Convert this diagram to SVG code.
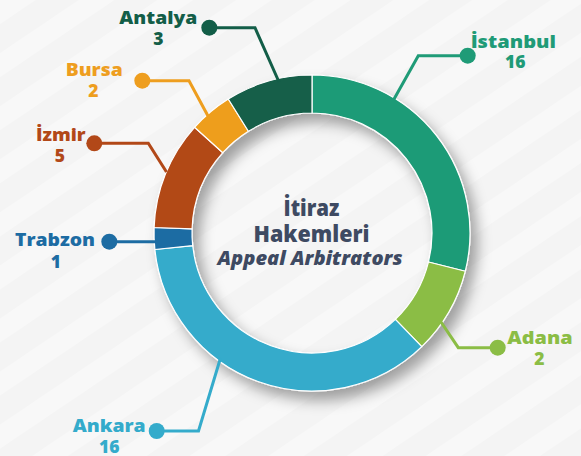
<svg xmlns="http://www.w3.org/2000/svg" width="581" height="456" viewBox="0 0 581 456">
<defs>
<pattern id="bgp" width="44" height="44" patternUnits="userSpaceOnUse" patternTransform="rotate(-34)">
<rect width="44" height="44" fill="#F4F4F4"/>
<rect width="44" height="20" fill="#F8F8F8"/>
</pattern>
<filter id="sh" x="-20%" y="-20%" width="150%" height="150%">
<feDropShadow dx="7" dy="9" stdDeviation="7" flood-color="#000" flood-opacity="0.35"/>
</filter>
</defs>
<style>
.seg{stroke:#FFFFFF;stroke-width:1.2;stroke-linejoin:round}
.ln{fill:none;stroke-width:3;stroke-linejoin:miter}
.lb{font-family:"Open Sans","Liberation Sans",sans-serif;font-weight:800;font-size:17.5px;text-anchor:middle}
.ct{font-family:"Open Sans","Liberation Sans",sans-serif;font-weight:800;fill:#3E4A62;text-anchor:middle}
</style>
<rect width="581" height="456" fill="url(#bgp)"/>

<g id="ring" filter="url(#sh)">
<g id="istanbul-seg"><path class="seg" fill="#1F9B77" d="M312,75 A158,158 0 0 1 465.31,271.22 L428.44,262.03 A120,120 0 0 0 312,113 Z"/></g>
<g id="adana-seg"><path class="seg" fill="#8BBD45" d="M465.31,271.22 A158,158 0 0 1 421.76,346.66 L395.36,319.32 A120,120 0 0 0 428.44,262.03 Z"/></g>
<g id="ankara-seg"><path class="seg" fill="#34ABCB" d="M421.76,346.66 A158,158 0 0 1 154.87,249.52 L192.66,245.54 A120,120 0 0 0 395.36,319.32 Z"/></g>
<g id="trabzon-seg"><path class="seg" fill="#1D6CA3" d="M154.87,249.52 A158,158 0 0 1 154.10,227.49 L192.07,228.81 A120,120 0 0 0 192.66,245.54 Z"/></g>
<g id="izmir-seg"><path class="seg" fill="#B24818" d="M154.10,227.49 A158,158 0 0 1 194.58,127.28 L222.82,152.70 A120,120 0 0 0 192.07,228.81 Z"/></g>
<g id="bursa-seg"><path class="seg" fill="#EE9E1F" d="M194.58,127.28 A158,158 0 0 1 228.27,99.01 L248.41,131.23 A120,120 0 0 0 222.82,152.70 Z"/></g>
<g id="antalya-seg"><path class="seg" fill="#135E48" d="M228.27,99.01 A158,158 0 0 1 312,75 L312,113 A120,120 0 0 0 248.41,131.23 Z"/></g>
</g>
<g id="center">
<text class="ct" x="311.5" y="216" font-size="22" textLength="56" lengthAdjust="spacingAndGlyphs">İtiraz</text>
<text class="ct" x="311.5" y="242" font-size="22" textLength="116" lengthAdjust="spacingAndGlyphs">Hakemleri</text>
<text class="ct" x="310" y="265" font-size="18.5" font-style="italic" textLength="185" lengthAdjust="spacingAndGlyphs">Appeal Arbitrators</text>
</g>

<g id="connectors">
<path class="ln" stroke="#135E48" d="M209.3,27.7 H255 L279,82"/>
<path class="ln" stroke="#EE9E1F" d="M142.3,80.7 H189 L208,116"/>
<path class="ln" stroke="#B24818" d="M94.3,143.3 H148.3 L166.5,172"/>
<path class="ln" stroke="#1D6CA3" d="M109.3,241.7 H157"/>
<path class="ln" stroke="#34ABCB" d="M156.7,431 H198.5 L220.5,358"/>
<path class="ln" stroke="#1F9B77" d="M467.7,55.7 H418.3 L393.5,100"/>
<path class="ln" stroke="#8BBD45" d="M497.7,347.7 H458.3 L441,322"/>
<circle cx="209.3" cy="27.7" r="8" fill="#135E48"/>
<circle cx="142.3" cy="80.7" r="8" fill="#EE9E1F"/>
<circle cx="94.3" cy="143.3" r="8" fill="#B24818"/>
<circle cx="109.3" cy="241.7" r="8" fill="#1D6CA3"/>
<circle cx="156.7" cy="431" r="8" fill="#34ABCB"/>
<circle cx="467.7" cy="55.7" r="8" fill="#1F9B77"/>
<circle cx="497.7" cy="347.7" r="8" fill="#8BBD45"/>
</g>

<g id="antalya" fill="#135E48">
<text class="lb" x="158.3" y="24" textLength="78" lengthAdjust="spacingAndGlyphs">Antalya</text>
<text class="lb" x="158.3" y="45">3</text>
</g>
<g id="bursa" fill="#EE9E1F">
<text class="lb" x="94.2" y="76" textLength="57" lengthAdjust="spacingAndGlyphs">Bursa</text>
<text class="lb" x="93.5" y="97">2</text>
</g>
<g id="izmir" fill="#B24818">
<text class="lb" x="60.8" y="141" textLength="49.7" lengthAdjust="spacingAndGlyphs">İzmir</text>
<text class="lb" x="60" y="162">5</text>
</g>
<g id="trabzon" fill="#1D6CA3">
<text class="lb" x="55" y="246" textLength="80" lengthAdjust="spacingAndGlyphs">Trabzon</text>
<text class="lb" x="56" y="268">1</text>
</g>
<g id="ankara" fill="#34ABCB">
<text class="lb" x="109.2" y="431.7" textLength="73" lengthAdjust="spacingAndGlyphs">Ankara</text>
<text class="lb" x="109.3" y="452.7">16</text>
</g>
<g id="istanbul" fill="#1F9B77">
<text class="lb" x="513.3" y="48.3" textLength="85.3" lengthAdjust="spacingAndGlyphs">İstanbul</text>
<text class="lb" x="515.3" y="68.3">16</text>
</g>
<g id="adana" fill="#8BBD45">
<text class="lb" x="540" y="344.3" textLength="65.3" lengthAdjust="spacingAndGlyphs">Adana</text>
<text class="lb" x="539.5" y="365">2</text>
</g>
</svg>
